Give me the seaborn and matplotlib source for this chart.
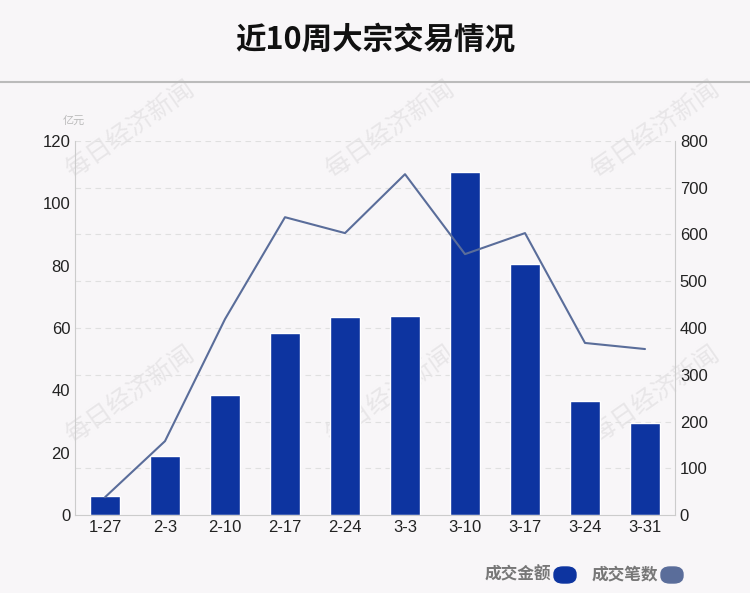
import matplotlib
matplotlib.use("Agg")
import matplotlib.pyplot as plt
import seaborn as sns
import pandas as pd
from matplotlib.patches import FancyBboxPatch

weeks = ["1-27", "2-3", "2-10", "2-17", "2-24", "3-3", "3-10", "3-17", "3-24", "3-31"]
amount = [6, 19, 38.5, 58.5, 63.5, 64, 110, 80.5, 36.5, 29.5]
deals = [38, 158, 419, 637, 603, 729, 558, 603, 368, 355]

bar_color = "#0d34a0"
line_color = "#5a6d9a"
bg = "#f8f6f8"

sns.set_style("white")
plt.rcParams["font.family"] = ["Liberation Sans", "Noto Sans CJK SC", "DejaVu Sans"]

df = pd.DataFrame({"week": weeks, "amount": amount, "deals": deals})

fig = plt.figure(figsize=(7.5, 5.93), dpi=100, facecolor=bg)

# watermarks behind everything
for (x, y) in [(130, 130), (390, 130), (655, 130), (130, 395), (390, 395), (655, 395)]:
    fig.text(x / 750, 1 - y / 593, "每日经济新闻", rotation=35, fontsize=18,
             color="#e8e6e8", ha="center", va="center", family=["Noto Sans CJK SC"], zorder=-5)

ax = fig.add_axes([75 / 750, 1 - 515 / 593, 600 / 750, 374 / 593])
ax.set_facecolor("none")
ax.set_zorder(1)

sns.barplot(data=df, x="week", y="amount", color=bar_color, width=0.5, ax=ax, saturation=1)
ax.set_ylim(0, 120)
ax.set_yticks(range(0, 121, 20))
ax.set_xlim(-0.5, 9.5)
ax.set_xlabel("")
ax.set_ylabel("")
ax.tick_params(length=0, labelsize=12, colors="#222222")
for y in range(15, 121, 15):
    ax.axhline(y, color="#e0e0e0", lw=0.8, ls=(0, (5, 4)), zorder=0)
for s in ["top", "right"]:
    ax.spines[s].set_visible(False)
ax.spines["left"].set_color("#cccccc")
ax.spines["bottom"].set_color("#cccccc")
fig.text(63 / 750, 1 - 121 / 593, "亿元", fontsize=8, color="#bbbbbb", ha="left", va="center",
         family=["Noto Sans CJK SC"])

ax2 = ax.twinx()
ax2.set_facecolor("none")
sns.lineplot(x=list(range(len(weeks))), y=deals, color=line_color, lw=1.5, ax=ax2)
ax2.set_ylim(0, 800)
ax2.set_yticks(range(0, 801, 100))
ax2.tick_params(length=0, labelsize=12, colors="#222222")
for s in ["top", "left", "bottom"]:
    ax2.spines[s].set_visible(False)
ax2.spines["right"].set_color("#cccccc")

fig.text(0.5, 1 - 40 / 593, "近10周大宗交易情况", ha="center", va="center",
         fontsize=22, fontweight="bold", family=["Noto Sans CJK SC"], color="#111111")
fig.add_artist(plt.Line2D([0, 1], [1 - 82 / 593] * 2, color="#bbbbbb", lw=1.5))

# legend
fig.text(485 / 750, 1 - 574 / 593, "成交金额", fontsize=12, fontweight="bold", color="#777777",
         va="center", family=["Noto Sans CJK SC"])
fig.text(592 / 750, 1 - 574 / 593, "成交笔数", fontsize=12, fontweight="bold", color="#777777",
         va="center", family=["Noto Sans CJK SC"])
for x0, c in [(554, bar_color), (661, line_color)]:
    fig.add_artist(FancyBboxPatch((x0 / 750, 1 - 583 / 593), 22 / 750, 16 / 593,
                                  boxstyle="round,pad=0,rounding_size=0.012",
                                  transform=fig.transFigure, color=c))

fig.savefig("out.png", dpi=100, facecolor=bg)
